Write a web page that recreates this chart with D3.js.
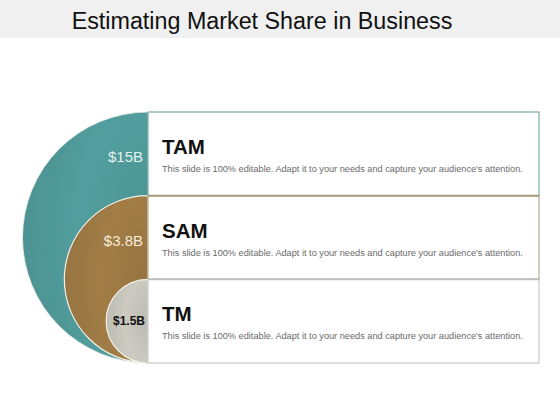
<!DOCTYPE html>
<html>
<head>
<meta charset="utf-8">
<script src="https://d3js.org/d3.v7.min.js"></script>
<style>
  body { margin: 0; background: #fff; }
  svg { display: block; font-family: "Liberation Sans", Arial, sans-serif; }
</style>
</head>
<body>
<div id="chart"></div>
<script>
// data
var segments = ["TAM", "SAM", "TM"];
var amounts = ["$15B", "$3.8B", "$1.5B"];
var blurb = "This slide is 100% editable. Adapt it to your needs and capture your audience's attention.";
var fills = ["#4f9797", "#9b7843", "#c3c2b9"];
var edges = ["#5a9a9c", "#a89a7a", "#bdbdbd"];

var w = 560, h = 420;

var svg = d3.select("#chart")
            .append("svg")
            .attr("width", w)
            .attr("height", h);

// soft shading for the half circles
var defs = svg.append("defs");
fills.forEach(function(c, i) {
  var g = defs.append("radialGradient")
              .attr("id", "shade" + i)
              .attr("cx", "100%").attr("cy", "50%").attr("r", "100%");
  g.append("stop").attr("offset", "0%").attr("stop-color", d3.color(c).darker(0.1));
  g.append("stop").attr("offset", "55%").attr("stop-color", d3.color(c).brighter(0.12));
  g.append("stop").attr("offset", "80%").attr("stop-color", c);
  g.append("stop").attr("offset", "100%").attr("stop-color", d3.color(c).darker(0.08));
});

// header band + title
svg.append("rect")
   .attr("x", 0).attr("y", 0)
   .attr("width", w).attr("height", 38)
   .attr("fill", "#f0f0f0");

svg.append("text")
   .attr("x", 262).attr("y", 29)
   .attr("text-anchor", "middle")
   .attr("font-size", "23.3px")
   .attr("fill", "#111")
   .text("Estimating Market Share in Business");

// rows
var rowTop = 112, rowBottom = 363;
var boxLeft = 148, boxRight = 539;

var y = d3.scaleBand()
          .domain(segments)
          .range([rowTop, rowBottom])
          .padding(0);

// nested half circles, all touching the bottom edge
var circles = svg.append("g");
segments.forEach(function(s, i) {
  var r = (rowBottom - y(s)) / 2;
  var cy = y(s) + r;
  var arc = d3.arc()
              .innerRadius(0)
              .outerRadius(r)
              .startAngle(Math.PI)
              .endAngle(2 * Math.PI);
  circles.append("path")
         .attr("d", arc())
         .attr("transform", "translate(" + boxLeft + "," + cy + ")")
         .attr("fill", "url(#shade" + i + ")")
         .attr("stroke", "#f2efe6")
         .attr("stroke-width", i === 0 ? 0.8 : 1.2);
});

// boxes
var boxes = svg.selectAll("g.row")
  .data(segments)
  .enter()
  .append("g")
  .attr("class", "row");

boxes.append("rect")
     .attr("x", boxLeft)
     .attr("y", function(d) { return y(d); })
     .attr("width", boxRight - boxLeft)
     .attr("height", y.bandwidth())
     .attr("fill", "#fff")
     .attr("stroke", function(d, i) { return edges[i]; })
     .attr("stroke-width", 1);

// thicker separators between rows
boxes.filter(function(d, i) { return i > 0; })
     .append("line")
     .attr("x1", boxLeft).attr("x2", boxRight)
     .attr("y1", function(d) { return y(d); })
     .attr("y2", function(d) { return y(d); })
     .attr("stroke", function(d, i) { return edges[i + 1]; })
     .attr("stroke-width", 2);

boxes.append("text")
     .attr("x", 162)
     .attr("y", function(d) { return y(d) + 42; })
     .attr("font-size", "20.5px")
     .attr("font-weight", "bold")
     .attr("fill", "#111")
     .text(function(d) { return d; });

boxes.append("text")
     .attr("x", 162)
     .attr("y", function(d) { return y(d) + 60; })
     .attr("font-size", "9.2px")
     .attr("fill", "#6a6a6a")
     .text(blurb);

// amount labels on the circles
boxes.append("text")
     .attr("x", function(d, i) { return i === 2 ? 145 : 143; })
     .attr("y", function(d, i) { return y(d) + (i === 2 ? 46 : 50); })
     .attr("text-anchor", "end")
     .attr("font-size", function(d, i) { return i === 2 ? "12px" : "15px"; })
     .attr("font-weight", function(d, i) { return i === 2 ? "bold" : "normal"; })
     .attr("fill", function(d, i) { return i === 2 ? "#111" : (i === 0 ? "#e4f2f2" : "#f5ecd9"); })
     .text(function(d, i) { return amounts[i]; });
</script>
</body>
</html>
